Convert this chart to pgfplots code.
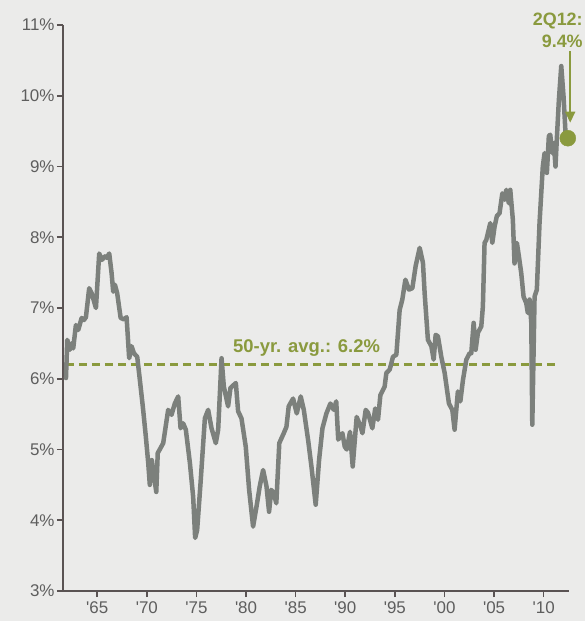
\documentclass[border=0pt]{standalone}
\usepackage{pgfplots}
\pgfplotsset{compat=1.18}
\usepackage{pgfplotstable}
\usepackage{fontspec}
\setmainfont{Liberation Sans}
\usetikzlibrary{arrows.meta}

\definecolor{bg}{HTML}{EBEBEA}
\definecolor{rategray}{HTML}{7C807C}
\definecolor{axisgray}{HTML}{5A5353}
\definecolor{labelgray}{HTML}{5E5E5E}
\definecolor{olive}{HTML}{8A9A3E}

% Quarterly rate, percent
\pgfplotstableread{
year rate
1961.85 6.01
1961.98 6.55
1962.25 6.41
1962.42 6.50
1962.58 6.43
1962.85 6.76
1963.09 6.69
1963.43 6.86
1963.66 6.83
1963.86 6.87
1964.19 7.28
1964.44 7.21
1964.87 7.00
1965.20 7.77
1965.47 7.68
1965.78 7.73
1965.95 7.71
1966.21 7.77
1966.45 7.49
1966.61 7.23
1966.78 7.33
1967.01 7.21
1967.36 6.86
1967.69 6.84
1967.96 6.87
1968.22 6.29
1968.46 6.46
1968.70 6.36
1969.03 6.31
1969.30 5.98
1969.63 5.56
1969.90 5.18
1970.14 4.81
1970.30 4.50
1970.50 4.85
1970.75 4.60
1970.95 4.40
1971.10 4.95
1971.30 5.00
1971.65 5.09
1972.15 5.56
1972.49 5.49
1972.82 5.65
1973.16 5.75
1973.40 5.30
1973.66 5.37
1973.93 5.28
1974.34 4.81
1974.67 4.33
1974.87 3.75
1975.07 3.86
1975.41 4.52
1975.85 5.44
1976.18 5.56
1976.52 5.30
1976.95 5.09
1977.19 5.28
1977.53 6.29
1977.76 5.89
1978.19 5.61
1978.43 5.87
1978.97 5.94
1979.20 5.54
1979.54 5.44
1979.97 5.04
1980.31 4.43
1980.71 3.91
1981.05 4.19
1981.38 4.48
1981.72 4.71
1982.06 4.48
1982.32 4.12
1982.54 4.43
1982.79 4.38
1983.05 4.24
1983.35 5.09
1983.80 5.23
1984.07 5.32
1984.30 5.61
1984.74 5.72
1985.11 5.51
1985.51 5.75
1985.82 5.56
1986.25 5.14
1986.59 4.76
1987.02 4.22
1987.36 4.85
1987.70 5.30
1988.10 5.51
1988.50 5.65
1988.84 5.56
1989.09 5.68
1989.29 5.14
1989.71 5.23
1989.95 5.04
1990.15 5.00
1990.48 5.25
1990.75 4.76
1991.15 5.46
1991.56 5.32
1991.73 5.23
1992.06 5.56
1992.29 5.52
1992.73 5.30
1993.02 5.58
1993.30 5.42
1993.54 5.77
1993.97 5.89
1994.14 6.08
1994.48 6.13
1994.81 6.31
1995.15 6.34
1995.48 6.97
1995.75 7.12
1996.06 7.40
1996.42 7.26
1996.76 7.28
1997.09 7.59
1997.50 7.85
1997.83 7.64
1998.00 7.21
1998.33 6.55
1998.68 6.46
1998.91 6.27
1999.11 6.62
1999.34 6.60
1999.68 6.31
2000.02 6.08
2000.45 5.65
2000.79 5.56
2001.02 5.28
2001.35 5.82
2001.60 5.68
2001.86 5.98
2002.20 6.27
2002.53 6.36
2002.70 6.36
2002.94 6.79
2003.14 6.41
2003.37 6.65
2003.71 6.74
2003.87 7.02
2004.04 7.92
2004.21 7.96
2004.38 8.06
2004.62 8.20
2004.82 7.92
2005.05 8.15
2005.28 8.30
2005.55 8.34
2005.83 8.62
2006.06 8.53
2006.23 8.67
2006.49 8.48
2006.63 8.67
2006.89 8.25
2007.06 7.63
2007.30 7.92
2007.50 7.73
2007.74 7.49
2007.97 7.16
2008.24 7.07
2008.40 6.93
2008.58 7.12
2008.75 6.79
2008.85 5.35
2009.08 7.16
2009.31 7.26
2009.58 8.20
2009.91 9.00
2010.09 9.19
2010.32 8.91
2010.52 9.43
2010.66 9.45
2010.86 9.19
2011.02 9.33
2011.19 9.00
2011.32 9.38
2011.53 9.94
2011.77 10.42
2012.00 9.99
2012.20 9.47
2012.43 9.40
}\ratetable

\begin{document}
\begin{tikzpicture}
\fill[bg] (-63bp,-30bp) rectangle (522bp,591bp);
\begin{axis}[
  scale only axis,
  width=506bp, height=566bp,
  xmin=1961.55, xmax=2012.55,
  ymin=3, ymax=11,
  axis x line=bottom, axis y line=left,
  axis line style={-, draw=axisgray, line width=1.6bp},
  every tick/.style={draw=axisgray, line width=1.6bp},
  tick align=outside,
  major tick length=6bp,
  xtick={1965,1970,1975,1980,1985,1990,1995,2000,2005,2010},
  xticklabels={\textquotesingle 65,\textquotesingle 70,\textquotesingle 75,\textquotesingle 80,\textquotesingle 85,\textquotesingle 90,\textquotesingle 95,\textquotesingle 00,\textquotesingle 05,\textquotesingle 10},
  ytick={3,4,5,6,7,8,9,10,11},
  yticklabels={3\%,4\%,5\%,6\%,7\%,8\%,9\%,10\%,11\%},
  ticklabel style={font=\fontsize{17}{20}\selectfont, text=labelgray},
  yticklabel style={xshift=1bp},
  xticklabel style={yshift=-1bp},
  clip=false,
]
% 50-year average
\addplot[olive, line width=3bp, dash pattern=on 8bp off 5bp]
  coordinates {(1961.85,6.2) (2011.6,6.2)};
\node[olive, font=\fontsize{18.5}{21}\selectfont\bfseries]
  at (axis cs:1986.1,6.43) {50-yr. avg.: 6.2\%};

% rate series
\addplot[rategray, line width=4.5bp, line join=round, line cap=round]
  table[x=year, y=rate] {\ratetable};

% latest value
\addplot[only marks, mark=*, mark size=8bp, olive, mark options={draw=olive, fill=olive}]
  coordinates {(2012.43,9.4)};
\draw[olive, line width=2bp, -{Triangle[width=10bp,length=11bp]}]
  (axis cs:2012.67,10.63) -- (axis cs:2012.67,9.62);
\node[olive, font=\fontsize{18}{22}\selectfont\bfseries, anchor=east, align=right, inner sep=0pt]
  at (axis cs:2013.95,10.92) {2Q12:\\9.4\%};
\end{axis}
\end{tikzpicture}
\end{document}
